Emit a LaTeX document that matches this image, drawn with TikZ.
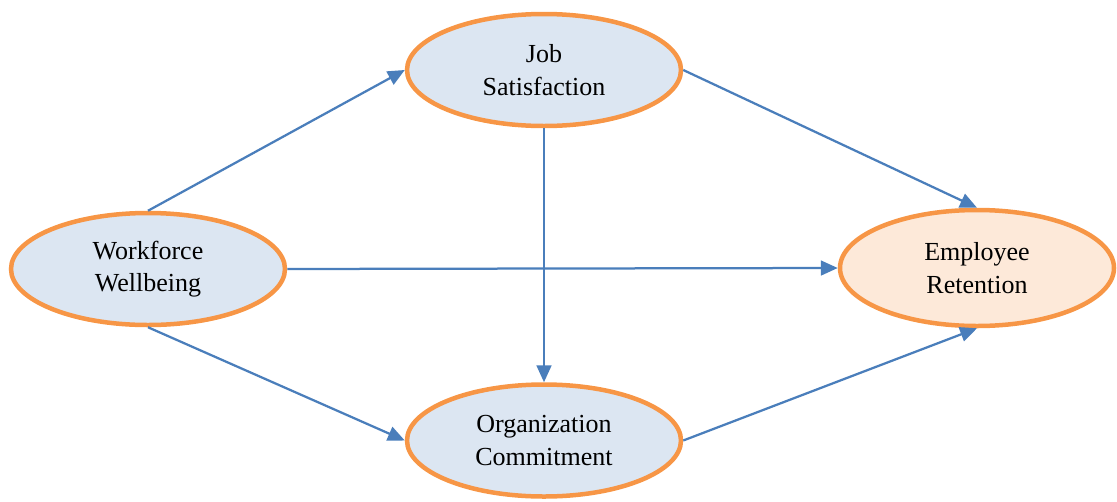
\documentclass[tikz,border=0pt]{standalone}
\usepackage{fontspec}
\setmainfont{Liberation Serif}
\usetikzlibrary{shapes.geometric,arrows.meta}

\definecolor{ovalline}{HTML}{F79646}
\definecolor{ovalfill}{HTML}{DCE6F2}
\definecolor{goalfill}{HTML}{FDE9D9}
\definecolor{linkblue}{HTML}{4A7EBB}

\begin{document}
\begin{tikzpicture}[x=.025cm, y=-.025cm,
    oval/.style={ellipse, draw=ovalline, line width=3.2pt, fill=ovalfill,
      minimum width=274*.025cm, minimum height=112*.025cm, inner sep=0pt,
      align=center, font=\fontsize{18.5}{23}\selectfont},
    link/.style={draw=linkblue, line width=1.6pt,
      -{Triangle[length=12pt, width=10.5pt]}}]
\useasboundingbox (0,0) rectangle (1117,501);
\node[oval] (ww) at (148,269) {Workforce\\Wellbeing};
\node[oval] (js) at (544,70) {Job\\Satisfaction};
\node[oval] (oc) at (544,440.5) {Organization\\Commitment};
\node[oval, fill=goalfill, minimum height=116*.025cm] (er) at (977,268) {Employee\\Retention};
\draw[link] (ww.north) -- (js.west);
\draw[link] (js.south) -- (oc.north);
\draw[link] (js.east) -- (er.north);
\draw[link] (ww.east) -- (er.west);
\draw[link] (ww.south) -- (oc.west);
\draw[link] (oc.east) -- (er.south);
\end{tikzpicture}
\end{document}
